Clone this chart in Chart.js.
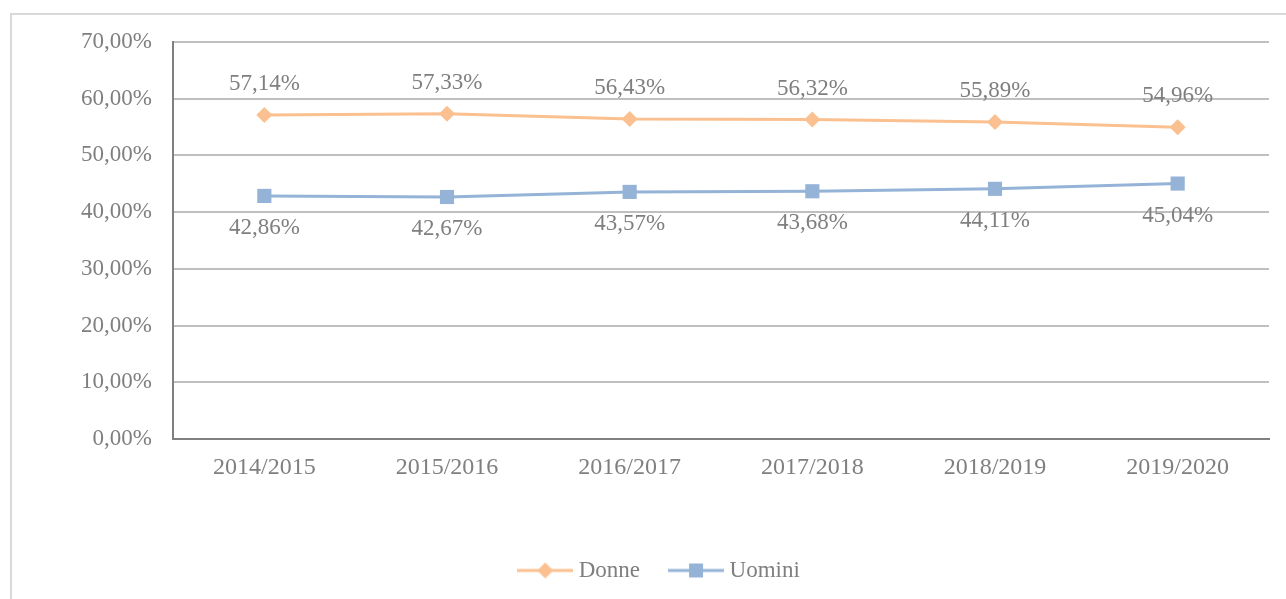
<!DOCTYPE html>
<html>
<head>
<meta charset="utf-8">
<script src="https://cdn.jsdelivr.net/npm/chart.js@4"></script>
<style>
    html, body { margin: 0; padding: 0; background: #ffffff; overflow: hidden; }
    #frame {
        position: absolute; left: 10px; top: 13px;
        width: 1400px; height: 700px;
        border: 2px solid #d9d9d9;
    }
    #chart { position: absolute; left: 0; top: 0; }
</style>
</head>
<body>
<div id="frame"></div>
<canvas id="chart" width="1286" height="599"></canvas>
<script>
const years = ["2014/2015", "2015/2016", "2016/2017", "2017/2018", "2018/2019", "2019/2020"];
const donne = [57.14, 57.33, 56.43, 56.32, 55.89, 54.96];
const uomini = [42.86, 42.67, 43.57, 43.68, 44.11, 45.04];
const yTicks = [0, 10, 20, 30, 40, 50, 60, 70];

const ORANGE = "#fac090";
const BLUE = "#95b3d7";
const TEXT = "#7f7f7f";
const FONT = "'Liberation Serif', 'Times New Roman', serif";

function pct(v) {
    return v.toFixed(2).replace(".", ",") + "%";
}

// legend swatch: short line with the marker in the middle
function legendSwatch(color, shape) {
    const c = document.createElement("canvas");
    c.width = 56;
    c.height = 18;
    const ctx = c.getContext("2d");
    ctx.strokeStyle = color;
    ctx.lineWidth = 3;
    ctx.beginPath();
    ctx.moveTo(0, 9);
    ctx.lineTo(56, 9);
    ctx.stroke();
    ctx.fillStyle = color;
    if (shape === "diamond") {
        ctx.beginPath();
        ctx.moveTo(28, 1);
        ctx.lineTo(36, 9);
        ctx.lineTo(28, 17);
        ctx.lineTo(20, 9);
        ctx.closePath();
        ctx.fill();
    } else {
        ctx.fillRect(21, 2, 14, 14);
    }
    return c;
}

const swatches = [legendSwatch(ORANGE, "diamond"), legendSwatch(BLUE, "square")];

// value labels: Donne above the points, Uomini below
const valueLabels = {
    id: "valueLabels",
    afterDatasetsDraw(chart) {
        const ctx = chart.ctx;
        ctx.save();
        ctx.font = "23px " + FONT;
        ctx.fillStyle = TEXT;
        ctx.textAlign = "center";
        ctx.textBaseline = "middle";
        chart.data.datasets.forEach((ds, di) => {
            const meta = chart.getDatasetMeta(di);
            meta.data.forEach((pt, i) => {
                const off = di === 0 ? -31 : 32;
                ctx.fillText(pct(ds.data[i]), pt.x, pt.y + off);
            });
        });
        ctx.restore();
    }
};

new Chart(document.getElementById("chart"), {
    type: "line",
    data: {
        labels: years,
        datasets: [
            {
                label: "Donne",
                data: donne,
                borderColor: ORANGE,
                backgroundColor: ORANGE,
                borderWidth: 3,
                tension: 0,
                pointStyle: "rectRot",
                pointRadius: 8,
                pointBorderWidth: 0,
                pointBackgroundColor: ORANGE
            },
            {
                label: "Uomini",
                data: uomini,
                borderColor: BLUE,
                backgroundColor: BLUE,
                borderWidth: 3,
                tension: 0,
                pointStyle: "rect",
                pointRadius: 10,
                pointBorderWidth: 0,
                pointBackgroundColor: BLUE
            }
        ]
    },
    options: {
        responsive: false,
        animation: false,
        devicePixelRatio: 1,
        layout: {
            padding: { left: 54, right: 17, top: 42, bottom: 7 }
        },
        plugins: {
            tooltip: { enabled: false },
            legend: {
                position: "bottom",
                labels: {
                    usePointStyle: true,
                    pointStyleWidth: 44,
                    padding: 34,
                    color: TEXT,
                    font: { family: FONT, size: 23 },
                    generateLabels(chart) {
                        const items = Chart.defaults.plugins.legend.labels.generateLabels(chart);
                        items.forEach((it, i) => { it.pointStyle = swatches[i]; });
                        return items;
                    }
                }
            }
        },
        scales: {
            x: {
                offset: true,
                grid: { display: false },
                border: { display: true, color: "#808080", width: 2 },
                ticks: {
                    color: TEXT,
                    font: { family: FONT, size: 24 },
                    padding: 6,
                    maxRotation: 0,
                    autoSkip: false
                },
                afterFit(scale) { scale.height = 86; }
            },
            y: {
                min: 0,
                max: 70,
                afterBuildTicks(scale) {
                    scale.ticks = yTicks.map(v => ({ value: v }));
                },
                grid: { color: "#bfbfbf", lineWidth: 2, drawTicks: false },
                border: { display: true, color: "#808080", width: 2 },
                ticks: {
                    color: TEXT,
                    font: { family: FONT, size: 23 },
                    padding: 21,
                    callback: v => pct(v)
                },
                afterFit(scale) { scale.width = 119; }
            }
        }
    },
    plugins: [valueLabels]
});
</script>
</body>
</html>
